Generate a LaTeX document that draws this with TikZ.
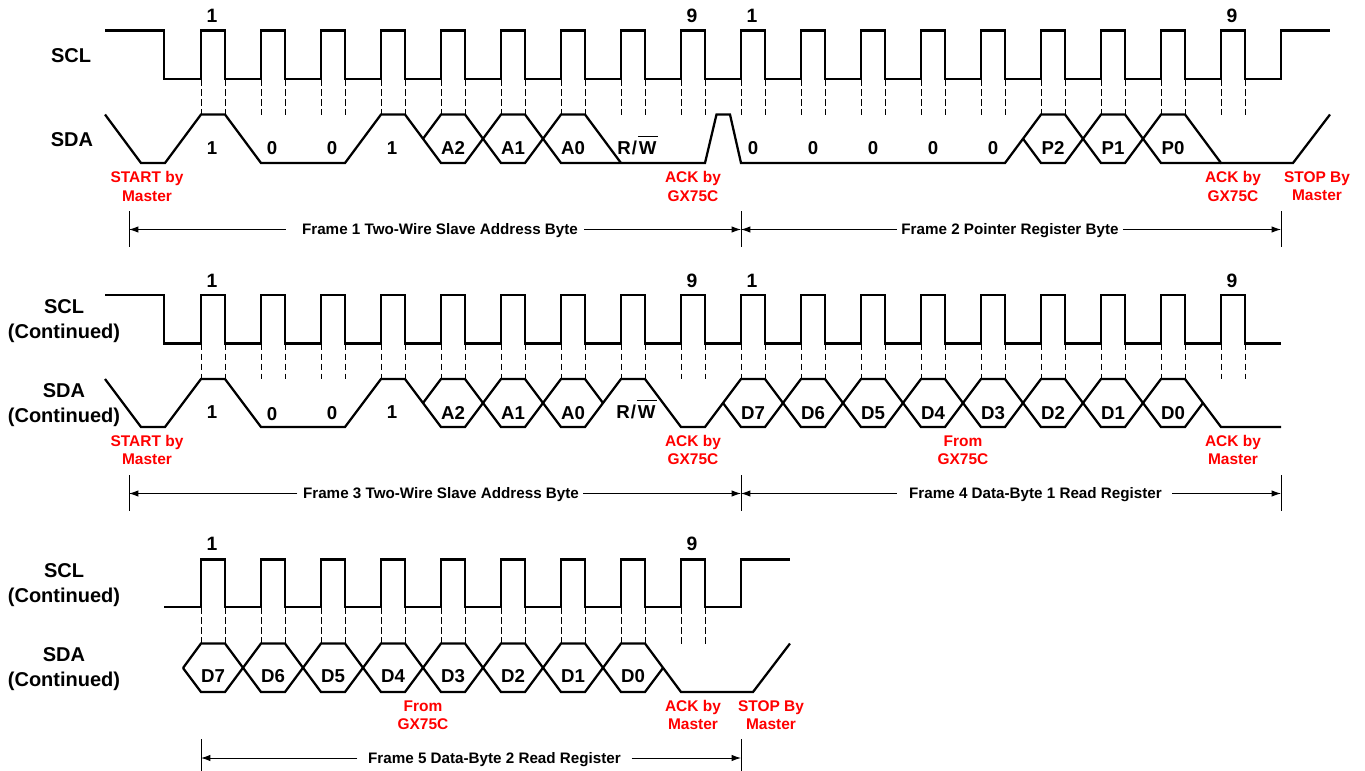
\documentclass[tikz,border=0pt]{standalone}
\usepackage{fontspec}
\setmainfont{Liberation Sans}[BoldFont={Liberation Sans Bold}]
\usetikzlibrary{arrows.meta}
\newcommand\ovbar[1]{\vbox{\hrule height 0.7pt \kern 3.4pt \hbox{\kern0.8pt #1\kern0.8pt}}}
\newcommand\rw{R\kern0.8pt/\kern0.6pt\ovbar{W}}
\tikzset{
  wave/.style={line width=1.7pt,line join=miter,line cap=butt},
  guide/.style={line width=0.6pt,dash pattern=on 5pt off 2.5pt},
  span/.style={line width=0.7pt},
  pointer/.style={line width=0.7pt,-{Latex[length=7pt,width=4.8pt]}},
  sig/.style={font=\bfseries\fontsize{15}{18.7}\selectfont,inner sep=0pt,align=center},
  bit/.style={font=\bfseries\fontsize{14}{16}\selectfont,inner sep=0pt,text height=10pt,text depth=0pt},
  num/.style={font=\bfseries\fontsize{14.5}{16}\selectfont,inner sep=0pt,text height=10.4pt,text depth=0pt},
  note/.style={font=\bfseries\fontsize{11.6}{13.6}\selectfont,text=red,inner sep=0pt,align=center},
  frame/.style={font=\bfseries\fontsize{11.4}{12}\selectfont,inner sep=0pt,text height=8.2pt,text depth=0pt},
}
\begin{document}
\begin{tikzpicture}[x=0.75pt,y=-0.75pt]
\useasboundingbox (0,0) rectangle (1365,771);
% ---------- Row 1
\draw[wave] (105,30.5) -- (164,30.5) -- (164,79) foreach \k in {0,...,17}{ -- ({201+60*\k},79) -- ({201+60*\k},30.5) -- ({225+60*\k},30.5) -- ({225+60*\k},79)} -- (1281,79) -- (1281,30.5) -- (1330,30.5);
\foreach \k in {0,...,17}{
  \draw[guide] ({201+60*\k},79) -- ({201+60*\k},114.5);
  \draw[guide] ({225+60*\k},79) -- ({225+60*\k},114.5);
}
\draw[wave] (105,114.5) -- (141,163) -- (165,163) -- (201,114.5) -- (225,114.5) -- (261,163) -- (345,163) -- (381,114.5) -- (405,114.5) -- (441,163) -- (465,163) -- (501,114.5) -- (525,114.5) -- (561,163) -- (585,163) -- (681,163) -- (705,163) -- (716.5,114.5) -- (730,114.5) -- (741,163) -- (1005,163) -- (1041,114.5) -- (1065,114.5) -- (1101,163) -- (1125,163) -- (1161,114.5) -- (1185,114.5) -- (1221,163) -- (1293,163) -- (1330,114.5);
\draw[wave] (423,138.75) -- (441,114.5) -- (465,114.5) -- (501,163) -- (525,163) -- (561,114.5) -- (585,114.5) -- (621,163);
\draw[wave] (1023,138.75) -- (1041,163) -- (1065,163) -- (1101,114.5) -- (1125,114.5) -- (1161,163) -- (1221,163);
\node[sig] (scla) at (71,56) {SCL};
\node[sig] (sdaa) at (72,140) {SDA};
\node[num] (na1) at (212,16) {1};
\node[num] (na2) at (692,16) {9};
\node[num] (na3) at (752,16) {1};
\node[num] (na4) at (1232,16) {9};
\foreach \n/\x/\t in {a1/212/1,a2/272/0,a3/332/0,a4/392/1,a5/453/A2,a6/513/A1,a7/573/A0,a9/753/0,a10/813/0,a11/873/0,a12/933/0,a13/993/0,a14/1053/P2,a15/1113/P1,a16/1173/P0}
  \node[bit] (b\n) at (\x,148) {\t};
\node[bit] (ba8) at (637.5,148) {\rw};
\node[note] (ra1) at (147,186.5) {START by\\Master};
\node[note] (ra2) at (693,186.5) {ACK by\\GX75C};
\node[note] (ra3) at (1233,186.5) {ACK by\\GX75C};
\node[note] (ra4) at (1317,186.5) {STOP By\\Master};
\coordinate (fa0) at (129,229.5);
\coordinate (fa1) at (741,229.5);
\coordinate (fa2) at (1281,229.5);
\draw[span] (129,211) -- (129,247) (741,211) -- (741,247) (1281,211) -- (1281,247);
\node[frame] (fa) at (440,229.5) {Frame 1 Two-Wire Slave Address Byte};
\node[frame] (fb) at (1010,229.5) {Frame 2 Pointer Register Byte};
\draw[pointer] ([xshift=-12pt]fa.west) -- (fa0);
\draw[pointer] ([xshift=4.5pt]fa.east) -- (fa1);
\draw[pointer] ([xshift=-3pt]fb.west) -- (fa1);
\draw[pointer] ([xshift=3pt]fb.east) -- (fa2);
% ---------- Row 2
\draw[wave] (105,295) -- (164,295) -- (164,343.5) foreach \k in {0,...,17}{ -- ({201+60*\k},343.5) -- ({201+60*\k},295) -- ({225+60*\k},295) -- ({225+60*\k},343.5)} -- (1281,343.5);
\foreach \k in {0,...,17}{
  \draw[guide] ({201+60*\k},343.5) -- ({201+60*\k},379);
  \draw[guide] ({225+60*\k},343.5) -- ({225+60*\k},379);
}
\draw[wave] (105,379) -- (141,427) -- (165,427) -- (201,379) -- (225,379) -- (261,427) -- (345,427) -- (381,379) -- (405,379) -- (441,427) -- (465,427) -- (501,379) -- (525,379) -- (561,427) -- (585,427) -- (621,379) -- (645,379) -- (681,427) -- (705,427) -- (741,379) -- (765,379) -- (801,427) -- (825,427) -- (861,379) -- (885,379) -- (921,427) -- (945,427) -- (981,379) -- (1005,379) -- (1041,427) -- (1065,427) -- (1101,379) -- (1125,379) -- (1161,427) -- (1185,427) -- (1203,403);
\draw[wave] (423,403) -- (441,379) -- (465,379) -- (501,427) -- (525,427) -- (561,379) -- (585,379) -- (603,403);
\draw[wave] (723,403) -- (741,427) -- (765,427) -- (801,379) -- (825,379) -- (861,427) -- (885,427) -- (921,379) -- (945,379) -- (981,427) -- (1005,427) -- (1041,379) -- (1065,379) -- (1101,427) -- (1125,427) -- (1161,379) -- (1185,379) -- (1221,427) -- (1281,427);
\node[sig] (sclb) at (64,321) {SCL\\(Continued)};
\node[sig] (sdab) at (64,405) {SDA\\(Continued)};
\node[num] (nb1) at (212,281) {1};
\node[num] (nb2) at (692,281) {9};
\node[num] (nb3) at (752,281) {1};
\node[num] (nb4) at (1232,281) {9};
\foreach \n/\x/\y/\t in {1/212/412/1,2/272/414/0,3/332/412.5/0,4/392/412/1,5/453/413/A2,6/513/413/A1,7/573/413/A0,9/753/413/D7,10/813/413/D6,11/873/413/D5,12/933/413/D4,13/993/413/D3,14/1053/413/D2,15/1113/413/D1,16/1173/413/D0}
  \node[bit] (bb\n) at (\x,\y) {\t};
\node[bit] (bb8) at (636.5,412) {\rw};
\node[note] (rb1) at (147,450) {START by\\Master};
\node[note] (rb2) at (693,450) {ACK by\\GX75C};
\node[note] (rb3) at (963,450) {From\\GX75C};
\node[note] (rb4) at (1233,450) {ACK by\\Master};
\coordinate (fb0) at (129,493.5);
\coordinate (fb1) at (741,493.5);
\coordinate (fb2) at (1281,493.5);
\draw[span] (129,475) -- (129,511) (741,475) -- (741,511) (1281,475) -- (1281,511);
\node[frame] (fc) at (441,493.5) {Frame 3 Two-Wire Slave Address Byte};
\node[frame] (fd) at (1035.5,493.5) {Frame 4 Data-Byte 1 Read Register};
\draw[pointer] ([xshift=-4pt]fc.west) -- (fb0);
\draw[pointer] ([xshift=3pt]fc.east) -- (fb1);
\draw[pointer] ([xshift=-9pt]fd.west) -- (fb1);
\draw[pointer] ([xshift=7.5pt]fd.east) -- (fb2);
% ---------- Row 3
\draw[wave] (164,607) foreach \k in {0,...,8}{ -- ({201+60*\k},607) -- ({201+60*\k},559.5) -- ({225+60*\k},559.5) -- ({225+60*\k},607)} -- (741,607) -- (741,559.5) -- (790,559.5);
\foreach \k in {0,...,8}{
  \draw[guide] ({201+60*\k},607) -- ({201+60*\k},643.5);
  \draw[guide] ({225+60*\k},607) -- ({225+60*\k},643.5);
}
\draw[wave] (183,668) -- (201,643.5) -- (225,643.5) -- (261,692) -- (285,692) -- (321,643.5) -- (345,643.5) -- (381,692) -- (405,692) -- (441,643.5) -- (465,643.5) -- (501,692) -- (525,692) -- (561,643.5) -- (585,643.5) -- (621,692) -- (645,692) -- (663,668);
\draw[wave] (183,668) -- (201,692) -- (225,692) -- (261,643.5) -- (285,643.5) -- (321,692) -- (345,692) -- (381,643.5) -- (405,643.5) -- (441,692) -- (465,692) -- (501,643.5) -- (525,643.5) -- (561,692) -- (585,692) -- (621,643.5) -- (645,643.5) -- (681,692) -- (753,692) -- (790,643.5);
\node[sig] (sclc) at (64,585) {SCL\\(Continued)};
\node[sig] (sdac) at (64,669) {SDA\\(Continued)};
\node[num] (nc1) at (212,544) {1};
\node[num] (nc2) at (692,544) {9};
\foreach \n/\x/\t in {1/213/D7,2/273/D6,3/333/D5,4/393/D4,5/453/D3,6/513/D2,7/573/D1,8/633/D0}
  \node[bit] (bc\n) at (\x,676) {\t};
\node[note] (rc1) at (423,715) {From\\GX75C};
\node[note] (rc2) at (693,715) {ACK by\\Master};
\node[note] (rc3) at (771,715) {STOP By\\Master};
\coordinate (fc0) at (201,758);
\coordinate (fc1) at (741,758);
\draw[span] (201,739) -- (201,771) (741,739) -- (741,771);
\node[frame] (fe) at (494.5,758) {Frame 5 Data-Byte 2 Read Register};
\draw[pointer] ([xshift=-8pt]fe.west) -- (fc0);
\draw[pointer] ([xshift=8pt]fe.east) -- (fc1);
\end{tikzpicture}
\end{document}
